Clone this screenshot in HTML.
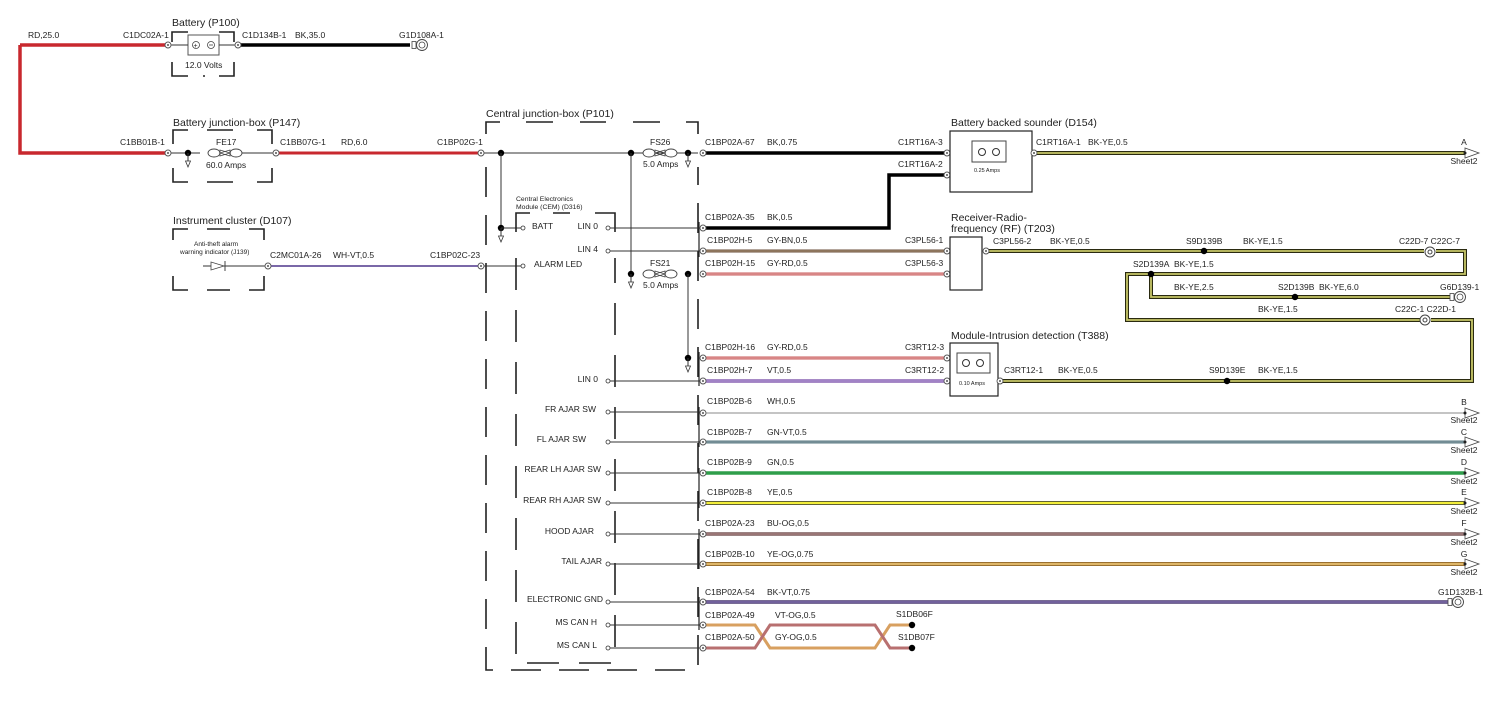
<!DOCTYPE html>
<html><head><meta charset="utf-8"><style>
html,body{margin:0;padding:0;background:#fff;}
svg{display:block;font-family:"Liberation Sans",Arial,sans-serif;}
text{font-size:8.5px;fill:#222;}
.t{font-size:10.5px;}
.s{font-size:6.5px;}
.d{fill:none;stroke:#222;stroke-width:1.6;stroke-dasharray:30,18;}
.b{fill:none;stroke:#222;stroke-width:1.6;}
.l{stroke:#333;stroke-width:1;fill:none;}
</style></head><body>
<svg width="1500" height="703" viewBox="0 0 1500 703" xmlns="http://www.w3.org/2000/svg">
<defs>
<g id="c"><circle r="3" fill="#fff" stroke="#555" stroke-width="0.9"/><circle r="1" fill="#555"/></g>
<g id="j"><circle r="3.2" fill="#000"/></g>
<g id="ar"><path d="M0,-5 L14,0 L0,5 Z" fill="#fff" stroke="#444" stroke-width="0.8"/><circle r="1.5" fill="#222"/></g>
<g id="gnd"><rect x="-4" y="-3.5" width="4" height="7" fill="#fff" stroke="#444" stroke-width="0.8"/><circle cx="6" r="5.5" fill="#fff" stroke="#444" stroke-width="0.9"/><circle cx="6" r="3" fill="none" stroke="#444" stroke-width="0.8"/></g>
<g id="ga"><line x1="0" y1="0" x2="0" y2="8" stroke="#333"/><path d="M-2.5,8 L2.5,8 L0,14 Z" fill="#fff" stroke="#333" stroke-width="0.8"/></g>
<g id="fuse"><ellipse cx="-11" cy="0" rx="6" ry="4" fill="#fff" stroke="#444" stroke-width="0.9"/><ellipse cx="11" cy="0" rx="6" ry="4" fill="#fff" stroke="#444" stroke-width="0.9"/><path d="M-5,0 L5,-3 L5,3 Z M5,0 L-5,-3 L-5,3 Z" fill="none" stroke="#444" stroke-width="0.8"/></g>
</defs>

<!-- Battery -->
<text class="t" x="172" y="26">Battery (P100)</text>
<path class="b" d="M172,42 V32 H188 M219,32 H234 V42 M172,62 V76 H188 M203,76 H205 M219,76 H234 V62"/>
<rect x="188" y="35" width="31" height="20" fill="#fff" stroke="#555"/>
<circle cx="196" cy="45" r="3.5" fill="none" stroke="#444" stroke-width="0.8"/><text x="193.5" y="48" style="font-size:7px">+</text>
<circle cx="211" cy="45" r="3.5" fill="none" stroke="#444" stroke-width="0.8"/><line x1="209" y1="45" x2="213" y2="45" stroke="#444" stroke-width="0.8"/>
<line class="l" x1="168" y1="45" x2="188" y2="45"/><line class="l" x1="219" y1="45" x2="238" y2="45"/>
<text x="185" y="68">12.0 Volts</text>
<path d="M20,45 H166 M20,45 V153 H166" stroke="#c8282e" stroke-width="3.5" fill="none"/>
<text x="28" y="38">RD,25.0</text>
<text x="123" y="38">C1DC02A-1</text>
<use href="#c" x="168" y="45"/>
<line x1="240" y1="45" x2="410" y2="45" stroke="#000" stroke-width="3.5"/>
<use href="#c" x="238" y="45"/>
<text x="242" y="38">C1D134B-1</text><text x="295" y="38">BK,35.0</text>
<text x="399" y="38">G1D108A-1</text>
<use href="#gnd" x="416" y="45"/>

<!-- Battery junction box -->
<text class="t" x="173" y="126">Battery junction-box (P147)</text>
<path class="b" d="M173,144 V130 H188 M207,130 H233 M257,130 H272 V144 M173,168 V182 H188 M207,182 H233 M257,182 H272 V168"/>
<text x="120" y="145">C1BB01B-1</text>
<use href="#c" x="168" y="153"/>
<line class="l" x1="171" y1="153" x2="200" y2="153"/><line class="l" x1="239" y1="153" x2="273" y2="153"/>
<use href="#j" x="188" y="153"/><use href="#ga" x="188" y="153"/>
<use href="#fuse" x="225" y="153"/>
<text x="216" y="145">FE17</text><text x="206" y="168">60.0 Amps</text>
<line x1="278" y1="153" x2="480" y2="153" stroke="#c8282e" stroke-width="3"/>
<use href="#c" x="276" y="153"/>
<text x="280" y="145">C1BB07G-1</text><text x="341" y="145">RD,6.0</text>
<text x="437" y="145">C1BP02G-1</text>
<use href="#c" x="481" y="153"/>

<!-- Instrument cluster -->
<text class="t" x="173" y="224">Instrument cluster (D107)</text>
<path class="b" d="M173,240 V229 H188 M207,229 H230 M249,229 H264 V240 M173,276 V290 H188 M207,290 H230 M249,290 H264 V276"/>
<text class="s" x="194" y="246">Anti-theft alarm</text>
<text class="s" x="180" y="254">warning indicator (J139)</text>
<line class="l" x1="203" y1="266" x2="266" y2="266"/>
<path d="M211,262 L211,270 L224,266 Z" fill="#fff" stroke="#444" stroke-width="0.8"/><line x1="225" y1="261" x2="225" y2="271" stroke="#444"/>
<line x1="269" y1="266" x2="481" y2="266" stroke="#7a68a8" stroke-width="2"/>
<use href="#c" x="268" y="266"/>
<text x="270" y="258">C2MC01A-26</text><text x="333" y="258">WH-VT,0.5</text>
<text x="430" y="258">C1BP02C-23</text>
<use href="#c" x="481" y="266"/>

<!-- Central junction box -->
<text class="t" x="486" y="117">Central junction-box (P101)</text>
<path class="b" d="M486,134 V122 H500 M526,122 H553 M580,122 H606 M633,122 H660 M686,122 H698 V134"/>
<path class="d" d="M486,167 V670 H698 V167" style="stroke-dasharray:30,18"/>
<line class="l" x1="484" y1="153" x2="698" y2="153"/>
<use href="#j" x="501" y="153"/><use href="#j" x="631" y="153"/><use href="#j" x="688" y="153"/>
<use href="#fuse" x="660" y="153"/>
<text x="650" y="145">FS26</text><text x="643" y="167">5.0 Amps</text>
<use href="#ga" x="688" y="153"/>
<line class="l" x1="501" y1="153" x2="501" y2="228"/>
<use href="#j" x="501" y="228"/><use href="#ga" x="501" y="228"/>
<line class="l" x1="501" y1="228" x2="523" y2="228"/>
<line class="l" x1="631" y1="153" x2="631" y2="274"/>
<use href="#j" x="631" y="274"/><use href="#ga" x="631" y="274"/>
<use href="#fuse" x="660" y="274"/>
<text x="650" y="266">FS21</text><text x="643" y="288">5.0 Amps</text>
<use href="#j" x="688" y="274"/>
<line class="l" x1="688" y1="274" x2="688" y2="358"/>
<use href="#j" x="688" y="358"/><use href="#ga" x="688" y="358"/>
<line class="l" x1="484" y1="266" x2="523" y2="266"/>

<!-- CEM -->
<text class="s" x="516" y="201" style="font-size:6.8px">Central Electronics</text>
<text class="s" x="516" y="209" style="font-size:6.8px">Module (CEM) (D316)</text>
<path class="b" d="M516,232 V213 H530 M553,213 H570 M595,213 H615 V232"/>
<path class="d" d="M516,258 V663 H615 V258" style="stroke-dasharray:32,20"/>
<circle cx="523" cy="228" r="2" fill="#fff" stroke="#333" stroke-width="0.8"/><text x="532" y="229">BATT</text>
<circle cx="523" cy="266" r="2" fill="#fff" stroke="#333" stroke-width="0.8"/><text x="534" y="267">ALARM LED</text>
<g text-anchor="end">
<text x="598" y="229">LIN 0</text><text x="598" y="252">LIN 4</text><text x="598" y="382">LIN 0</text>
<text x="596" y="412">FR AJAR SW</text><text x="586" y="442">FL AJAR SW</text>
<text x="601" y="472">REAR LH AJAR SW</text><text x="601" y="503">REAR RH AJAR SW</text>
<text x="594" y="534">HOOD AJAR</text><text x="602" y="564">TAIL AJAR</text>
<text x="603" y="602">ELECTRONIC GND</text><text x="597" y="625">MS CAN H</text><text x="597" y="648">MS CAN L</text>
</g>
<g fill="#fff" stroke="#333" stroke-width="0.8">
<circle cx="608" cy="228" r="2"/><circle cx="608" cy="251" r="2"/><circle cx="608" cy="381" r="2"/>
<circle cx="608" cy="412" r="2"/><circle cx="608" cy="442" r="2"/><circle cx="608" cy="473" r="2"/><circle cx="608" cy="503" r="2"/>
<circle cx="608" cy="534" r="2"/><circle cx="608" cy="564" r="2"/><circle cx="608" cy="602" r="2"/><circle cx="608" cy="625" r="2"/><circle cx="608" cy="648" r="2"/>
</g>
<g class="l">
<path d="M610,228 H703 M610,251 H703 M610,381 H703 M610,412 H703 M610,442 H703 M610,473 H703 M610,503 H703 M610,534 H703 M610,564 H703 M610,602 H703 M610,625 H703 M610,648 H703"/>
</g>
<g stroke="#222" stroke-width="1.2">
<line x1="699" y1="222" x2="699" y2="257"/><line x1="699" y1="352" x2="699" y2="386"/><line x1="699" y1="407" x2="699" y2="447"/>
<line x1="699" y1="468" x2="699" y2="508"/><line x1="699" y1="529" x2="699" y2="569"/><line x1="699" y1="597" x2="699" y2="630"/>
</g>

<!-- wires right of central box -->
<line x1="705" y1="153" x2="946" y2="153" stroke="#000" stroke-width="3.5"/>
<path d="M705,228 H889 V175 H946" stroke="#000" stroke-width="3.5" fill="none"/>
<line x1="705" y1="251" x2="946" y2="251" stroke="#6a4e38" stroke-width="3"/><line x1="705" y1="251" x2="946" y2="251" stroke="#b09a80" stroke-width="1"/>
<line x1="705" y1="274" x2="946" y2="274" stroke="#c85a5a" stroke-width="3"/><line x1="705" y1="274" x2="946" y2="274" stroke="#e8b0b0" stroke-width="1"/>
<line x1="705" y1="358" x2="946" y2="358" stroke="#c85a5a" stroke-width="3"/><line x1="705" y1="358" x2="946" y2="358" stroke="#e8b0b0" stroke-width="1"/>
<line x1="705" y1="381" x2="946" y2="381" stroke="#8a64b4" stroke-width="3.5"/><line x1="705" y1="381" x2="946" y2="381" stroke="#b8a0d8" stroke-width="1"/>
<line x1="705" y1="413" x2="1466" y2="413" stroke="#888" stroke-width="1"/>
<line x1="705" y1="442" x2="1466" y2="442" stroke="#5a7880" stroke-width="3"/><line x1="705" y1="442" x2="1466" y2="442" stroke="#8aa0a8" stroke-width="1"/>
<line x1="705" y1="473" x2="1466" y2="473" stroke="#2e9e4a" stroke-width="3.5"/>
<line x1="705" y1="503" x2="1466" y2="503" stroke="#333" stroke-width="4"/><line x1="705" y1="503" x2="1466" y2="503" stroke="#f2ee3a" stroke-width="2.6"/>
<line x1="705" y1="534" x2="1466" y2="534" stroke="#7a5a5a" stroke-width="3.5"/><line x1="705" y1="534" x2="1466" y2="534" stroke="#b89090" stroke-width="1"/>
<line x1="705" y1="564" x2="1466" y2="564" stroke="#9a7030" stroke-width="4"/><line x1="705" y1="564" x2="1466" y2="564" stroke="#e8c070" stroke-width="1.8"/>
<line x1="705" y1="602" x2="1448" y2="602" stroke="#4a3a70" stroke-width="3.5"/><line x1="705" y1="602" x2="1448" y2="602" stroke="#9a88c8" stroke-width="1"/>
<path d="M705,625 H755 L770,648 H875 L890,625 H912" stroke="#d8a060" stroke-width="3" fill="none"/>
<path d="M705,648 H755 L770,625 H875 L890,648 H912" stroke="#b87070" stroke-width="3" fill="none"/>
<use href="#j" x="912" y="625"/><use href="#j" x="912" y="648"/>
<text x="896" y="617">S1DB06F</text><text x="898" y="640">S1DB07F</text>

<g>
<use href="#c" x="703" y="153"/><use href="#c" x="703" y="228"/><use href="#c" x="703" y="251"/><use href="#c" x="703" y="274"/>
<use href="#c" x="703" y="358"/><use href="#c" x="703" y="381"/><use href="#c" x="703" y="413"/><use href="#c" x="703" y="442"/>
<use href="#c" x="703" y="473"/><use href="#c" x="703" y="503"/><use href="#c" x="703" y="534"/><use href="#c" x="703" y="564"/>
<use href="#c" x="703" y="602"/><use href="#c" x="703" y="625"/><use href="#c" x="703" y="648"/>
<use href="#c" x="947" y="153"/><use href="#c" x="947" y="175"/><use href="#c" x="947" y="251"/><use href="#c" x="947" y="274"/>
<use href="#c" x="947" y="358"/><use href="#c" x="947" y="381"/>
</g>
<text x="705" y="145">C1BP02A-67</text><text x="767" y="145">BK,0.75</text><text x="898" y="145">C1RT16A-3</text>
<text x="898" y="167">C1RT16A-2</text>
<text x="705" y="220">C1BP02A-35</text><text x="767" y="220">BK,0.5</text>
<text x="707" y="243">C1BP02H-5</text><text x="767" y="243">GY-BN,0.5</text><text x="905" y="243">C3PL56-1</text>
<text x="705" y="266">C1BP02H-15</text><text x="767" y="266">GY-RD,0.5</text><text x="905" y="266">C3PL56-3</text>
<text x="705" y="350">C1BP02H-16</text><text x="767" y="350">GY-RD,0.5</text><text x="905" y="350">C3RT12-3</text>
<text x="707" y="373">C1BP02H-7</text><text x="767" y="373">VT,0.5</text><text x="905" y="373">C3RT12-2</text>
<text x="707" y="404">C1BP02B-6</text><text x="767" y="404">WH,0.5</text>
<text x="707" y="435">C1BP02B-7</text><text x="767" y="435">GN-VT,0.5</text>
<text x="707" y="465">C1BP02B-9</text><text x="767" y="465">GN,0.5</text>
<text x="707" y="495">C1BP02B-8</text><text x="767" y="495">YE,0.5</text>
<text x="705" y="526">C1BP02A-23</text><text x="767" y="526">BU-OG,0.5</text>
<text x="705" y="557">C1BP02B-10</text><text x="767" y="557">YE-OG,0.75</text>
<text x="705" y="595">C1BP02A-54</text><text x="767" y="595">BK-VT,0.75</text>
<text x="705" y="618">C1BP02A-49</text><text x="775" y="618">VT-OG,0.5</text>
<text x="705" y="640">C1BP02A-50</text><text x="775" y="640">GY-OG,0.5</text>

<!-- Sounder -->
<text class="t" x="951" y="126">Battery backed sounder (D154)</text>
<rect x="950" y="131" width="82" height="61" fill="#fff" stroke="#222" stroke-width="1.2"/>
<rect x="972" y="141" width="34" height="21" fill="#fff" stroke="#444"/>
<circle cx="982" cy="152" r="3.5" fill="none" stroke="#333"/><circle cx="996" cy="152" r="3.5" fill="none" stroke="#333"/>
<text class="s" x="974" y="172" style="font-size:5.5px">0.25 Amps</text>
<!-- RF -->
<text class="t" x="951" y="221">Receiver-Radio-</text><text class="t" x="951" y="232">frequency (RF) (T203)</text>
<rect x="950" y="237" width="32" height="53" fill="#fff" stroke="#222" stroke-width="1.2"/>
<!-- Intrusion -->
<text class="t" x="951" y="339">Module-Intrusion detection (T388)</text>
<rect x="950" y="343" width="48" height="53" fill="#fff" stroke="#222" stroke-width="1.2"/>
<rect x="957" y="353" width="33" height="20" fill="#fff" stroke="#444"/>
<circle cx="966" cy="363" r="3.5" fill="none" stroke="#333"/><circle cx="980" cy="363" r="3.5" fill="none" stroke="#333"/>
<text class="s" x="959" y="385" style="font-size:5.5px">0.10 Amps</text>

<!-- BK-YE wires -->
<g fill="none" stroke="#2a2a10" stroke-width="4">
<path d="M1035,153 H1466"/>
<path d="M987,251 H1424 M1436,251 H1465 V274 H1127 V320 H1420 M1431,320 H1472 V381 H1000"/>
<path d="M1151,274 V297 H1450"/>
</g>
<g fill="none" stroke="#c8c86a" stroke-width="1.8">
<path d="M1035,153 H1466"/>
<path d="M987,251 H1424 M1436,251 H1465 V274 H1127 V320 H1420 M1431,320 H1472 V381 H1000"/>
<path d="M1151,274 V297 H1450"/>
</g>
<use href="#c" x="1034" y="153"/><use href="#c" x="986" y="251"/><use href="#c" x="1000" y="381"/>
<circle cx="1430" cy="252" r="5" fill="#fff" stroke="#444"/><circle cx="1430" cy="252" r="2" fill="none" stroke="#444"/>
<circle cx="1425" cy="320" r="5" fill="#fff" stroke="#444"/><circle cx="1425" cy="320" r="2" fill="none" stroke="#444"/>
<use href="#j" x="1204" y="251"/><use href="#j" x="1151" y="274"/><use href="#j" x="1295" y="297"/><use href="#j" x="1227" y="381"/>
<use href="#gnd" x="1454" y="297"/><use href="#gnd" x="1452" y="602"/>
<text x="1036" y="145">C1RT16A-1</text><text x="1088" y="145">BK-YE,0.5</text>
<text x="993" y="244">C3PL56-2</text><text x="1050" y="244">BK-YE,0.5</text>
<text x="1186" y="244">S9D139B</text><text x="1243" y="244">BK-YE,1.5</text>
<text x="1399" y="244">C22D-7 C22C-7</text>
<text x="1133" y="267">S2D139A</text><text x="1174" y="267">BK-YE,1.5</text>
<text x="1174" y="290">BK-YE,2.5</text><text x="1278" y="290">S2D139B</text><text x="1319" y="290">BK-YE,6.0</text>
<text x="1440" y="290">G6D139-1</text>
<text x="1258" y="312">BK-YE,1.5</text><text x="1395" y="312">C22C-1 C22D-1</text>
<text x="1004" y="373">C3RT12-1</text><text x="1058" y="373">BK-YE,0.5</text>
<text x="1209" y="373">S9D139E</text><text x="1258" y="373">BK-YE,1.5</text>
<text x="1438" y="595">G1D132B-1</text>

<!-- off-sheet arrows -->
<use href="#ar" x="1465" y="153"/><use href="#ar" x="1465" y="413"/><use href="#ar" x="1465" y="442"/><use href="#ar" x="1465" y="473"/>
<use href="#ar" x="1465" y="503"/><use href="#ar" x="1465" y="534"/><use href="#ar" x="1465" y="564"/>
<g text-anchor="middle">
<text x="1464" y="145">A</text><text x="1464" y="164">Sheet2</text>
<text x="1464" y="405">B</text><text x="1464" y="423">Sheet2</text>
<text x="1464" y="435">C</text><text x="1464" y="453">Sheet2</text>
<text x="1464" y="465">D</text><text x="1464" y="484">Sheet2</text>
<text x="1464" y="495">E</text><text x="1464" y="514">Sheet2</text>
<text x="1464" y="526">F</text><text x="1464" y="545">Sheet2</text>
<text x="1464" y="557">G</text><text x="1464" y="575">Sheet2</text>
</g>
</svg>
</body></html>
